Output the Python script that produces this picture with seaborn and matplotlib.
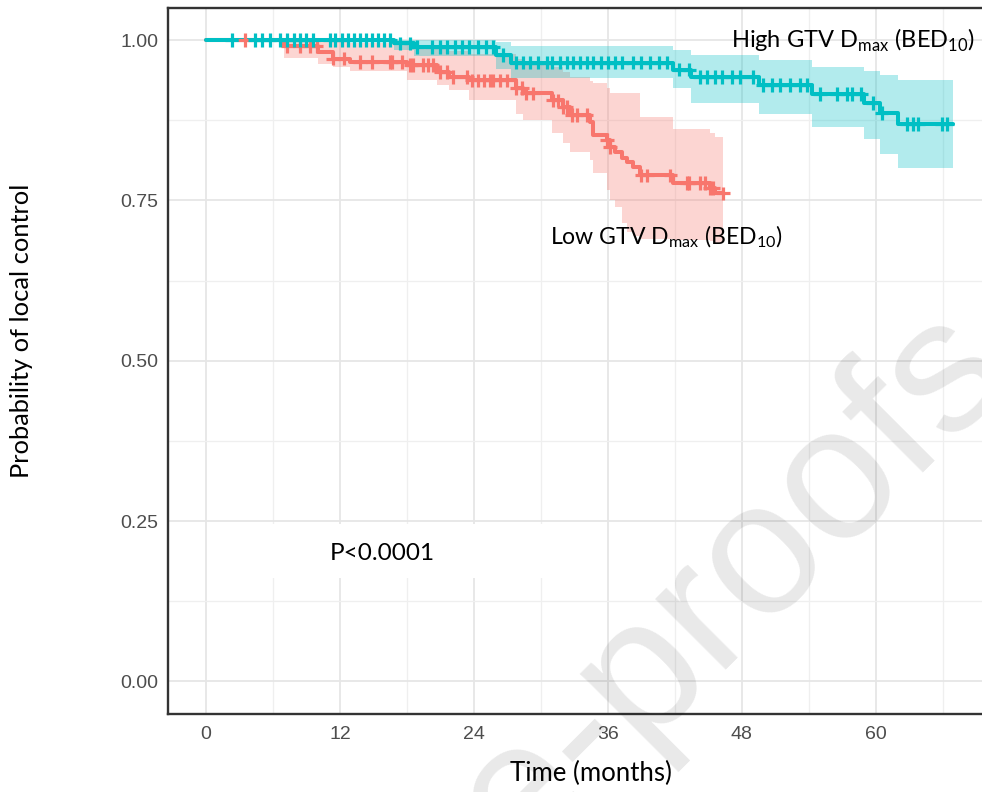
import numpy as np
import pandas as pd
import matplotlib
matplotlib.use("Agg")
import matplotlib.pyplot as plt
import seaborn as sns
from matplotlib.patches import Rectangle

# ---------------- data ----------------
groups = ["Low GTV Dmax", "High GTV Dmax"]

# High GTV Dmax (teal) Kaplan-Meier steps
hi_time = [0, 16.8, 18.6, 26.0, 27.3, 41.8, 43.4, 49.5, 54.3, 58.9, 60.4, 62.0]
hi_surv = [1.0, 0.995, 0.989, 0.977, 0.965, 0.954, 0.942, 0.930, 0.916, 0.902, 0.886, 0.869]
hi_upper = [1.0, 1.0, 1.0, 0.997, 0.990, 0.985, 0.977, 0.969, 0.958, 0.952, 0.946, 0.938]
hi_lower = [1.0, 0.985, 0.975, 0.955, 0.941, 0.925, 0.902, 0.885, 0.864, 0.845, 0.823, 0.800]
hi_end = 66.9
hi_censor = [2.3, 4.4, 5.0, 5.7, 6.6, 7.3, 7.9, 8.4, 9.0, 9.6, 11.1, 11.6, 12.2, 12.7,
             13.3, 13.8, 14.3, 14.9, 15.4, 15.9, 16.5, 17.4, 18.3, 18.9, 20.2, 21.0,
             21.6, 22.3, 22.9, 23.6, 24.4, 25.1, 25.7, 26.6, 27.8, 28.4, 29.0, 29.7,
             30.5, 31.0, 31.7, 32.3, 32.9, 33.5, 34.1, 34.7, 35.4, 36.0, 36.6, 37.3,
             38.2, 39.0, 39.8, 40.6, 41.3, 42.4, 43.3, 44.2, 44.9, 45.6, 46.2, 47.1,
             47.8, 49.0, 49.9, 50.7, 51.4, 52.3, 53.2, 53.8, 55.0, 56.5, 57.4, 57.9,
             58.7, 59.7, 60.5, 62.8, 63.3, 63.8, 65.9, 66.4]

# Low GTV Dmax (red) Kaplan-Meier steps
lo_time = [0, 7.0, 10.0, 11.4, 12.9, 18.0, 20.7, 21.8, 23.6, 27.8, 28.4, 31.0, 32.0,
           32.6, 34.4, 34.7, 35.9, 36.2, 36.6, 37.3, 37.7, 38.2, 38.9, 41.8, 45.1, 45.6]
lo_surv = [1.0, 0.990, 0.981, 0.971, 0.966, 0.961, 0.950, 0.942, 0.937, 0.925, 0.917,
           0.906, 0.896, 0.883, 0.872, 0.852, 0.844, 0.833, 0.825, 0.816, 0.810, 0.802,
           0.789, 0.777, 0.769, 0.761]
lo_upper = [1.0, 1.0, 1.0, 0.998, 0.995, 0.993, 0.988, 0.983, 0.978, 0.970, 0.965,
            0.958, 0.950, 0.942, 0.936, 0.933, 0.925, 0.917, 0.917, 0.917, 0.917, 0.917,
            0.880, 0.862, 0.855, 0.849]
lo_lower = [1.0, 0.972, 0.962, 0.958, 0.952, 0.938, 0.930, 0.922, 0.906, 0.885, 0.875,
            0.855, 0.840, 0.825, 0.813, 0.792, 0.766, 0.750, 0.740, 0.714, 0.700, 0.695,
            0.690, 0.688, 0.686, 0.683]
lo_end = 46.3
lo_censor = [3.5, 7.3, 8.4, 9.3, 9.9, 11.4, 12.4, 13.8, 14.9, 16.5, 16.7, 17.6, 18.3,
             18.5, 19.4, 19.9, 20.3, 21.0, 21.6, 22.1, 23.4, 23.8, 24.4, 24.9, 25.4,
             25.7, 26.3, 27.0, 27.8, 28.3, 28.7, 29.3, 31.1, 31.5, 32.0, 32.3, 32.8,
             33.2, 34.1, 35.9, 36.2, 39.0, 39.5, 41.6, 43.1, 43.3, 44.2, 44.7, 45.1,
             45.4, 46.3]

x_ticks = [0, 12, 24, 36, 48, 60]
y_ticks = [0.00, 0.25, 0.50, 0.75, 1.00]
y_tick_labels = ["0.00", "0.25", "0.50", "0.75", "1.00"]

colors = {"Low GTV Dmax": "#F8766D", "High GTV Dmax": "#00BFC4"}

# ---------------- build tables ----------------
def step_at(times, vals, t):
    i = np.searchsorted(np.asarray(times), t, side="right") - 1
    return np.asarray(vals)[i]

curves = {
    "Low GTV Dmax": (lo_time, lo_surv, lo_lower, lo_upper, lo_end, lo_censor),
    "High GTV Dmax": (hi_time, hi_surv, hi_lower, hi_upper, hi_end, hi_censor),
}

line_rows, cens_rows = [], []
for g, (t, s, lo, up, end, cen) in curves.items():
    for ti, si in zip(list(t) + [end], list(s) + [s[-1]]):
        line_rows.append({"group": g, "time": ti, "surv": si})
    for c in cen:
        cens_rows.append({"group": g, "time": c, "surv": step_at(t, s, c)})
line_df = pd.DataFrame(line_rows)
cens_df = pd.DataFrame(cens_rows)

# ---------------- styling ----------------
sns.set_theme(style="white")
plt.rcParams["font.family"] = ["Liberation Sans", "DejaVu Sans"]

W, H = 982, 792
fig = plt.figure(figsize=(W / 100, H / 100), dpi=100)
fig.patch.set_facecolor("white")

ax_left, ax_right, ax_top, ax_bottom = 168, 982, 8, 713.5
ax = fig.add_axes([ax_left / W, 1 - ax_bottom / H, (ax_right - ax_left) / W,
                   (ax_bottom - ax_top) / H])
ax.set_facecolor("white")

# confidence bands
for g, (t, s, lo, up, end, cen) in curves.items():
    tt = list(t) + [end]
    ax.fill_between(tt, list(lo) + [lo[-1]], list(up) + [up[-1]], step="post",
                    color=colors[g], alpha=0.3, lw=0, zorder=2)

sns.lineplot(data=line_df, x="time", y="surv", hue="group", hue_order=groups,
             palette=colors, drawstyle="steps-post", estimator=None, lw=2.9,
             legend=False, ax=ax, zorder=3)
sns.scatterplot(data=cens_df, x="time", y="surv", hue="group", hue_order=groups,
                palette=colors, marker="+", s=95, linewidth=2.3, legend=False,
                ax=ax, zorder=4)

ax.set_xlim(-3.4, 69.5)
ax.set_ylim(-0.05, 1.05)
ax.set_xticks(x_ticks)
ax.set_xticks([6, 18, 30, 42, 54, 66], minor=True)
ax.set_yticks(y_ticks)
ax.set_yticklabels(y_tick_labels)
ax.set_yticks([0.125, 0.375, 0.625, 0.875], minor=True)
ax.grid(which="major", color="#e6e6e6", lw=1.3)
ax.grid(which="minor", color="#efefef", lw=0.9)
ax.set_axisbelow(True)
ax.set_xlabel("")
ax.set_ylabel("")

for side in ["left", "bottom", "top"]:
    ax.spines[side].set_color("#333333")
    ax.spines[side].set_linewidth(1.7)
ax.spines["right"].set_visible(False)
ax.tick_params(which="major", direction="out", length=4, width=1.6, color="#333333",
               labelsize=14, labelcolor="#4d4d4d", top=False, right=False)
ax.tick_params(axis="x", pad=5)
ax.tick_params(axis="y", pad=3)
ax.tick_params(which="minor", length=0)

# white box behind the p-value
ax.add_patch(Rectangle((222 / W, 1 - 578 / H), (543 - 222) / W, (578 - 524) / H,
                       transform=fig.transFigure, facecolor="white", edgecolor="none",
                       zorder=1.5))

lab_font = "Lato"
fig.text(591 / W, 1 - 773 / H, "Time (months)", ha="center", va="center",
         fontsize=18.5, family=lab_font, color="black")
fig.text(22 / W, 1 - 331 / H, "Probability of local control", ha="center",
         va="center", rotation=90, fontsize=18.3, family=lab_font, color="black")
fig.text(330 / W, 1 - 553 / H, "P<0.0001", ha="left", va="center", fontsize=17.5,
         family=lab_font, color="black")
fig.text(975 / W, 1 - 40 / H, r"High GTV D$_{\mathregular{max}}$ (BED$_{\mathregular{10}}$)",
         ha="right", va="center", fontsize=17, family=lab_font, color="black")
fig.text(550 / W, 1 - 237 / H, r"Low GTV D$_{\mathregular{max}}$ (BED$_{\mathregular{10}}$)",
         ha="left", va="center", fontsize=16.6, family=lab_font, color="black")

# watermark
fig.text(1016 / W, 1 - 379 / H, "Journal Pre-proofs", rotation=45, rotation_mode="anchor",
         ha="right", va="baseline", fontsize=137, color="black", alpha=0.09,
         family="Liberation Sans", zorder=10)

fig.savefig("out.png", dpi=100, facecolor=fig.get_facecolor())
